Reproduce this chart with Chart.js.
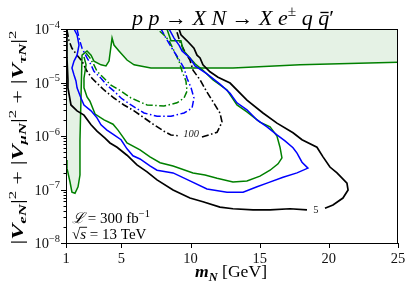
<!DOCTYPE html>
<html><head><meta charset="utf-8">
<script src="https://cdn.jsdelivr.net/npm/chart.js@4.4.0/dist/chart.umd.min.js"></script>
<style>html,body{margin:0;padding:0;background:#fff;}</style>
</head><body>
<canvas id="c" width="413" height="294"></canvas>
<script>
// x: m_N [GeV], second value: log10(|V_eN|^2+|V_muN|^2+|V_tauN|^2)
const xTicks = [1, 5, 10, 15, 20, 25];
const yTickExps = [-8, -7, -6, -5, -4];

const black5a = [[1.07,-4.00],[1.07,-4.54],[1.14,-4.95],[1.14,-5.10],[1.36,-5.42],[1.80,-5.53],[2.30,-5.61],[2.81,-5.79],[3.24,-5.91],[3.82,-6.04],[4.18,-6.13],[4.69,-6.21],[5.41,-6.36],[6.13,-6.54],[6.86,-6.67],[7.58,-6.82],[8.74,-7.01],[9.96,-7.16],[10.90,-7.23],[12.13,-7.33],[13.07,-7.36],[14.52,-7.38],[15.75,-7.38],[17.19,-7.36],[18.42,-7.38]];
const black5b = [[19.72,-7.35],[20.30,-7.29],[21.02,-7.16],[21.39,-7.01],[21.31,-6.88],[20.59,-6.69],[20.08,-6.58],[19.58,-6.39],[19.14,-6.21],[18.06,-6.07],[17.41,-5.94],[16.25,-5.76],[15.24,-5.57],[14.08,-5.33],[12.86,-5.01],[11.99,-4.90],[11.41,-4.80],[10.90,-4.67],[10.69,-4.54],[10.47,-4.49],[10.25,-4.36],[9.75,-4.22],[9.31,-4.11],[9.17,-4.00]];
const blueSolid = [[1.58,-4.00],[1.80,-4.11],[1.94,-4.30],[1.80,-4.49],[1.58,-4.60],[1.43,-4.73],[1.58,-4.86],[1.72,-4.97],[1.80,-5.10],[2.08,-5.29],[2.30,-5.42],[2.81,-5.53],[3.24,-5.66],[3.53,-5.79],[3.96,-5.89],[4.47,-5.98],[4.98,-6.07],[5.41,-6.24],[5.84,-6.37],[6.35,-6.43],[7.07,-6.56],[7.58,-6.64],[8.74,-6.69],[9.96,-6.84],[11.19,-6.99],[12.64,-7.05],[13.80,-7.05],[14.81,-6.95],[15.53,-6.88],[16.69,-6.77],[17.70,-6.69],[18.49,-6.60],[18.06,-6.49],[17.70,-6.32],[17.41,-6.22],[16.83,-6.09],[16.25,-5.98],[15.53,-5.83],[14.81,-5.70],[14.08,-5.51],[13.36,-5.38],[12.86,-5.20],[12.13,-5.03],[11.19,-4.84],[10.33,-4.69],[9.96,-4.54],[9.39,-4.41],[9.17,-4.30],[8.81,-4.17],[8.45,-4.00]];
const greenSolid = [[2.30,-4.52],[2.45,-4.67],[2.30,-4.92],[2.30,-5.10],[2.52,-5.27],[2.73,-5.35],[3.10,-5.59],[3.75,-5.70],[4.40,-5.78],[4.76,-5.89],[5.12,-6.02],[5.41,-6.13],[6.35,-6.26],[7.07,-6.39],[7.80,-6.50],[8.74,-6.56],[10.18,-6.69],[11.05,-6.73],[11.92,-6.79],[13.07,-6.86],[14.08,-6.84],[15.02,-6.75],[15.75,-6.64],[16.33,-6.52],[16.61,-6.41],[16.47,-6.21],[16.25,-6.00],[15.75,-5.83],[15.02,-5.74],[14.08,-5.55],[13.36,-5.42],[12.64,-5.14],[11.63,-4.95],[10.90,-4.77],[10.33,-4.65],[9.96,-4.54],[9.46,-4.39],[9.31,-4.22],[8.59,-4.22],[8.30,-4.00]];
const black100a = [[1.07,-4.02],[1.22,-4.22],[1.43,-4.36],[1.80,-4.49],[2.16,-4.60],[2.52,-4.79],[2.88,-4.92],[3.31,-5.03],[3.75,-5.14],[4.47,-5.29],[5.19,-5.42],[5.92,-5.53],[6.64,-5.66],[7.36,-5.79],[8.08,-5.91],[8.59,-5.98],[9.24,-6.00]];
const black100b = [[10.83,-6.02],[11.92,-5.93],[12.28,-5.74],[12.13,-5.57],[11.63,-5.36],[11.19,-5.18],[10.69,-4.95],[10.18,-4.77],[9.96,-4.58],[9.60,-4.43],[9.24,-4.24],[8.95,-4.00]];
const blueDash = [[1.80,-4.00],[1.94,-4.17],[2.16,-4.36],[2.52,-4.54],[2.81,-4.67],[3.02,-4.79],[3.53,-4.92],[3.96,-5.05],[4.47,-5.16],[4.98,-5.29],[5.70,-5.42],[6.64,-5.57],[7.58,-5.63],[8.59,-5.63],[9.53,-5.57],[10.11,-5.48],[10.25,-5.29],[10.04,-5.10],[9.75,-4.92],[9.53,-4.73],[9.10,-4.54],[8.66,-4.36],[8.23,-4.17],[7.87,-4.00]];
const greenDash = [[2.45,-4.45],[2.73,-4.54],[3.02,-4.67],[3.24,-4.79],[3.75,-4.92],[4.25,-5.05],[4.98,-5.16],[5.70,-5.29],[6.86,-5.42],[8.08,-5.44],[9.02,-5.38],[9.53,-5.29],[9.75,-5.16],[9.67,-4.97],[9.39,-4.79],[9.17,-4.60],[8.81,-4.41],[8.45,-4.22],[8.08,-4.11],[7.58,-4.00]];
const excluded = [[1.00,-6.45],[1.07,-6.60],[1.29,-6.86],[1.43,-7.05],[1.65,-7.07],[1.87,-6.95],[2.01,-6.73],[2.01,-6.07],[2.08,-5.33],[2.16,-4.49],[2.52,-4.41],[2.81,-4.49],[3.02,-4.60],[3.53,-4.67],[3.89,-4.69],[4.11,-4.60],[4.33,-4.17],[4.47,-4.30],[4.83,-4.41],[5.41,-4.58],[5.92,-4.67],[7.14,-4.73],[13.07,-4.73],[17.92,-4.67],[25.00,-4.62]];
const contourLabels = [{t:'5', x:19.07, e:-7.38}, {t:'100', x:10.04, e:-5.96}];

const SERIF = "'Liberation Serif','DejaVu Serif',serif";
const BLUE = '#0000ff', GREEN = '#008000', BLACK = '#000000';
const DD = [7, 2.5, 1.5, 2.5];

const toPts = a => a.map(p => ({x: p[0], y: Math.pow(10, p[1])}));
function ds(arr, color, dash, extra) {
  return Object.assign({data: toPts(arr), borderColor: color, borderWidth: 1.5, borderDash: dash || [],
    pointRadius: 0, fill: false, tension: 0}, extra || {});
}

function fnt(p, size) {
  const px = size * (p.sc || 1);
  const st = p.s === 'i' ? 'italic ' : p.s === 'bi' ? 'italic bold ' : '';
  return st + px.toFixed(2) + 'px ' + SERIF;
}
function richW(ctx, parts, size) {
  let w = 0;
  for (const p of parts) { ctx.font = fnt(p, size); w += ctx.measureText(p.t).width; }
  return w;
}
function drawRich(ctx, parts, x, y, size, align) {
  const w = richW(ctx, parts, size);
  let cx = align === 'center' ? x - w / 2 : align === 'right' ? x - w : x;
  ctx.textAlign = 'left'; ctx.textBaseline = 'alphabetic';
  for (const p of parts) {
    ctx.font = fnt(p, size);
    const tw = ctx.measureText(p.t).width;
    const yy = y + (p.dy || 0) * size;
    ctx.fillText(p.t, cx, yy);
    if (p.bar) ctx.fillRect(cx + tw * 0.2, yy - size * p.bar, tw * 0.75, Math.max(0.9, size * 0.06));
    if (p.over) ctx.fillRect(cx - 0.5, yy - size * p.over, tw + 1.5, Math.max(0.9, size * 0.06));
    cx += tw;
  }
  return w;
}
function fitSize(ctx, parts, target) { return 10 * target / richW(ctx, parts, 10); }

const decor = {
  id: 'decor',
  afterDraw(chart) {
    const ctx = chart.ctx, a = chart.chartArea, xs = chart.scales.x, ys = chart.scales.y;
    ctx.save();
    ctx.fillStyle = '#000'; ctx.strokeStyle = '#000';
    ctx.lineWidth = 1;
    ctx.strokeRect(Math.round(a.left) + 0.5, Math.round(a.top) + 0.5, Math.round(a.right - a.left) - 1, Math.round(a.bottom - a.top));
    ctx.beginPath();
    for (const e of yTickExps) {
      const y = Math.round(ys.getPixelForValue(Math.pow(10, e))) + 0.5;
      ctx.moveTo(a.left - 5, y); ctx.lineTo(a.left + 0.5, y);
      if (e < -4) for (let k = 2; k <= 9; k++) {
        const yy = Math.round(ys.getPixelForValue(k * Math.pow(10, e))) + 0.5;
        ctx.moveTo(a.left - 2.5, yy); ctx.lineTo(a.left + 0.5, yy);
      }
    }
    for (const v of xTicks) {
      const x = Math.round(xs.getPixelForValue(v)) + 0.5;
      ctx.moveTo(x, a.bottom); ctx.lineTo(x, a.bottom + 5);
    }
    ctx.stroke();
    ctx.fillStyle = '#111';
    for (const e of yTickExps) {
      const y = ys.getPixelForValue(Math.pow(10, e));
      drawRich(ctx, [{t: '10'}, {t: '\u2212' + (-e), sc: 0.72, dy: -0.42}], a.left - 6, y + 5, 14.5, 'right');
    }
    ctx.fillStyle = '#222';
    for (const L of contourLabels) {
      const x = xs.getPixelForValue(L.x), y = ys.getPixelForValue(Math.pow(10, L.e));
      drawRich(ctx, [{t: L.t, s: L.t === '100' ? 'i' : ''}], x, y + 3.5, 10.5, 'center');
    }
    ctx.fillStyle = '#000';
    const title = [{t:'p',s:'i'},{t:' '},{t:'p',s:'i'},{t:' \u2192 '},{t:'X',s:'i'},{t:' '},{t:'N',s:'i'},{t:' \u2192 '},{t:'X',s:'i'},{t:' '},{t:'e',s:'i'},{t:'\u00b1',sc:0.7,dy:-0.4},{t:' '},{t:'q',s:'i'},{t:' '},{t:'q',s:'i',bar:0.6},{t:'\u2032'}];
    drawRich(ctx, title, 233, 25, fitSize(ctx, title, 202), 'center');
    const xl = [{t:'m',s:'bi'},{t:'N',s:'bi',sc:0.7,dy:0.2},{t:' [GeV]'}];
    drawRich(ctx, xl, 231, 277, fitSize(ctx, xl, 72), 'center');
    // y label: glyph size fixed, stretched along the axis to the reference length
    const yl = [];
    for (const sub of ['eN', '\u03bcN', '\u03c4N']) {
      if (yl.length) yl.push({t: ' + '});
      yl.push({t: '|'}, {t: 'V', s: 'bi'}, {t: sub, s: 'bi', sc: 0.7, dy: 0.22}, {t: '|'}, {t: '2', sc: 0.7, dy: -0.42});
    }
    const ys0 = 16;
    const stretch = 214 / richW(ctx, yl, ys0);
    ctx.save();
    ctx.translate(22.5, 137.5); ctx.rotate(-Math.PI / 2); ctx.scale(stretch, 1);
    drawRich(ctx, yl, 0, 0, ys0, 'center');
    ctx.restore();
    drawRich(ctx, [{t:'\u2112',s:'i'},{t:' = 300 fb'},{t:'\u22121',sc:0.7,dy:-0.42}], 72, 223, 15, 'left');
    drawRich(ctx, [{t:'\u221a'},{t:'s',s:'i',over:0.78},{t:' = 13 TeV'}], 72, 238.5, 15, 'left');
    ctx.restore();
  }
};

new Chart(document.getElementById('c'), {
  type: 'line',
  data: {
    datasets: [
      ds(black5a, BLACK, [], {borderWidth: 1.7}),
      ds(black5b, BLACK, [], {borderWidth: 1.7}),
      ds(blueSolid, BLUE),
      ds(greenSolid, GREEN),
      ds(black100a, BLACK, DD, {borderWidth: 1.6}),
      ds(black100b, BLACK, DD, {borderWidth: 1.6}),
      ds(blueDash, BLUE, DD),
      ds(greenDash, GREEN, DD),
      ds(excluded, GREEN, [], {fill: 'end', backgroundColor: 'rgba(0,128,0,0.1)'})
    ]
  },
  options: {
    responsive: false, animation: false, devicePixelRatio: 1, events: [],
    layout: {padding: {left: 0, right: 15, top: 29, bottom: 0}},
    plugins: {legend: {display: false}, tooltip: {enabled: false}, title: {display: false}},
    scales: {
      x: {type: 'linear', min: 1, max: 25,
        afterBuildTicks: s => { s.ticks = xTicks.map(v => ({value: v})); },
        afterFit: s => { s.height = 51; },
        grid: {display: false, drawTicks: false}, border: {display: false},
        ticks: {font: {family: SERIF, size: 14.5}, color: '#111', padding: 7, maxRotation: 0, autoSkip: false}},
      y: {type: 'logarithmic', min: 1e-8, max: 1e-4,
        afterFit: s => { s.width = 66; },
        grid: {display: false, drawTicks: false}, border: {display: false},
        ticks: {display: false}}
    }
  },
  plugins: [decor]
});
</script>
</body></html>
